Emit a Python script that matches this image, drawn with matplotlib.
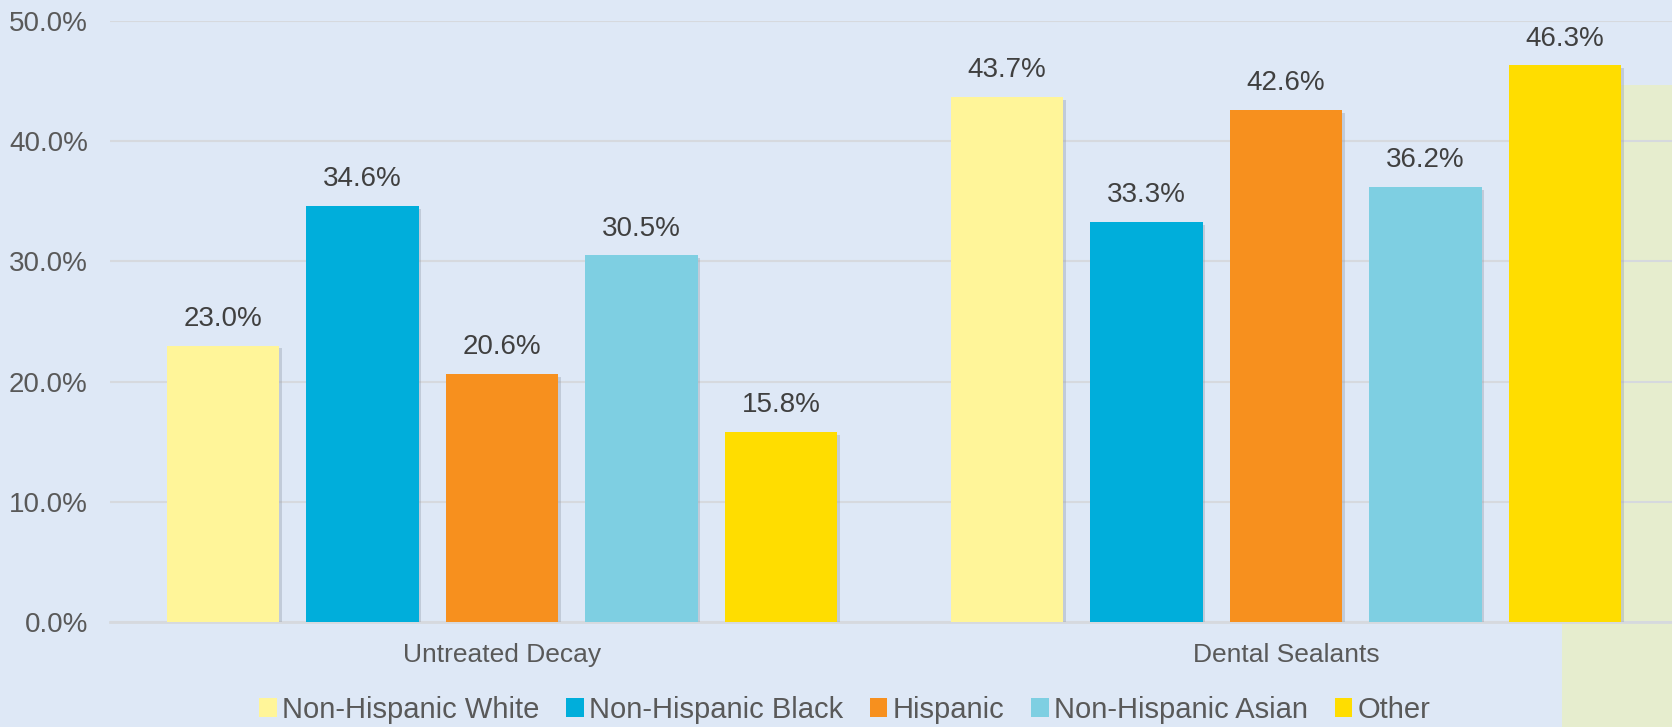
"""Untreated decay vs dental sealants by race/ethnicity, grouped bars."""
import numpy as np
import matplotlib.pyplot as plt
import matplotlib.patheffects as pe
from matplotlib.patches import Rectangle
from matplotlib.ticker import PercentFormatter

plt.rcParams["font.family"] = ["Liberation Sans", "DejaVu Sans"]

categories = ["Untreated Decay", "Dental Sealants"]
groups = ["Non-Hispanic White", "Non-Hispanic Black", "Hispanic",
          "Non-Hispanic Asian", "Other"]
values = {
    "Non-Hispanic White": [23.0, 43.7],
    "Non-Hispanic Black": [34.6, 33.3],
    "Hispanic":           [20.6, 42.6],
    "Non-Hispanic Asian": [30.5, 36.2],
    "Other":              [15.8, 46.3],
}
colors = ["#FFF599", "#00AEDB", "#F7901E", "#7ECFE2", "#FFDD00"]

BG = "#DEE8F6"
GRID = "#D6D9DE"
STEP, WIDTH = 0.178, 0.143

fig = plt.figure(figsize=(16.72, 7.27), dpi=100, facecolor=BG)
# pale green panel peeking in at the right edge, behind the chart
fig.patches.append(Rectangle((1562 / 1672, 0), 1, (727 - 85) / 727,
                             transform=fig.transFigure, facecolor="#E6EDCE",
                             edgecolor="none", zorder=-1))
ax = fig.add_axes([110 / 1672, 105 / 727, 1568 / 1672, 601 / 727])
ax.set_zorder(1)
ax.set_facecolor("none")

x = np.arange(len(categories))
shadow = [pe.SimplePatchShadow(offset=(2, -2), shadow_rgbFace="#8C95A3", alpha=0.35),
          pe.Normal()]
for i, (g, c) in enumerate(zip(groups, colors)):
    bars = ax.bar(x + (i - 2) * STEP, values[g], WIDTH, color=c, label=g,
                  zorder=3, path_effects=shadow)
    ax.bar_label(bars, labels=[f"{v:.1f}%" for v in values[g]], padding=10,
                 fontsize=20, color="#404040")

ax.set_xlim(-0.5, 1.5)
ax.set_ylim(0, 50)
ax.set_yticks(np.arange(0, 51, 10))
ax.yaxis.set_major_formatter(PercentFormatter(decimals=1))
ax.set_xticks(x, categories)
ax.grid(axis="y", color=GRID, linewidth=1.5, zorder=1)
ax.set_axisbelow(True)
for s in ["top", "right", "left"]:
    ax.spines[s].set_visible(False)
ax.spines["bottom"].set_color(GRID)
ax.spines["bottom"].set_linewidth(2)
ax.tick_params(axis="y", length=0, pad=16, labelsize=20, labelcolor="#595959")
ax.tick_params(axis="x", length=0, pad=15, labelsize=19, labelcolor="#595959")

leg = fig.legend(loc="center", bbox_to_anchor=(845 / 1672, 17 / 727), ncol=5,
                 frameon=False, fontsize=21, labelcolor="#595959", handlelength=0.6,
                 handleheight=0.6, handletextpad=0.2, columnspacing=0.9)
for h in leg.legend_handles:
    h.set_path_effects([])

fig.savefig("out.png", dpi=100, facecolor=BG)
